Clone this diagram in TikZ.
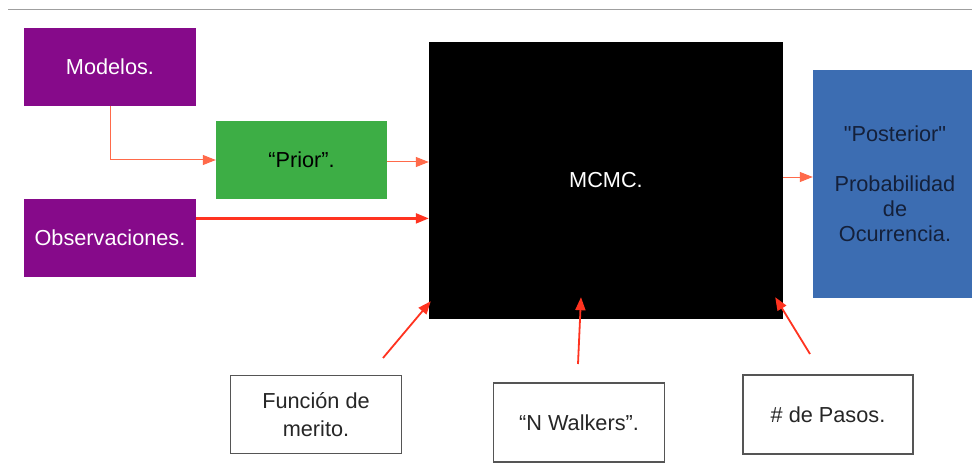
\documentclass[tikz,border=0pt]{standalone}
\usepackage{fontspec}
\setmainfont{Liberation Sans}
\newfontfamily\rawsans{Liberation Sans}[Ligatures=TeXOff]
\usetikzlibrary{arrows.meta,calc}
\definecolor{boxpurple}{HTML}{860A8A}
\definecolor{boxgreen}{HTML}{3DAE45}
\definecolor{boxblue}{HTML}{3C6DB2}
\definecolor{postext}{HTML}{14203A}
\definecolor{arrowred}{HTML}{FF3320}
\definecolor{arrowlight}{HTML}{FF6A4A}
\definecolor{framegray}{HTML}{555555}
\tikzset{
  blk/.style={rectangle, inner sep=0pt, align=center,
    font=\fontsize{21.7}{26}\selectfont},
  purplebox/.style={blk, fill=boxpurple, text=white,
    minimum width=172pt, minimum height=78pt},
  greenbox/.style={blk, fill=boxgreen, text=black,
    minimum width=171pt, minimum height=78pt},
  whitebox/.style={blk, draw=framegray, line width=1.2pt, fill=white, text=black!85,
    minimum width=171pt, minimum height=78pt},
  thinarrow/.style={draw=arrowlight, line width=1pt,
    -{Triangle[length=13pt,width=10pt]}},
  thickarrow/.style={draw=arrowred, line width=2.2pt,
    -{Triangle[length=13pt,width=10pt]}},
  midarrow/.style={draw=arrowred, line width=1.8pt,
    -{Triangle[length=13pt,width=10pt]}},
}
\begin{document}
\begin{tikzpicture}[x=1pt,y=-1pt]
  \useasboundingbox (0,0) rectangle (972,468);
  \fill[white] (0,0) rectangle (972,468);
  % header rule
  \draw[gray!75, line width=1.5pt] (8,9.5) -- (972,9.5);

  % input blocks
  \node[purplebox] (mod) at (110,67) {Modelos.};
  \node[purplebox] (obs) at (110,238) {Observaciones.};
  \node[greenbox] (prior) at (301.5,160) {“Prior”.};

  % sampler
  \node[blk, fill=black, text=white, minimum width=354pt, minimum height=277pt]
    (mcmc) at (606,180.5) {MCMC.};

  % result
  \node[blk, fill=boxblue, text=postext, minimum width=164pt, minimum height=228pt,
    font=\fontsize{21.7}{25}\selectfont]
    (post) at (895,184) {{\rawsans "Posterior"}\\[25pt]Probabilidad\\de\\Ocurrencia.};

  % parameters
  \node[whitebox, font=\fontsize{21.7}{28}\selectfont] (fun) at (316,414.5) {Función de\\merito.};
  \node[whitebox, minimum height=79pt] (walk) at (579,422.5) {“N Walkers”.};
  \node[whitebox, minimum width=170pt, minimum height=79pt] (pasos) at (828,414.5) {\# de Pasos.};

  % connectors
  \draw[thinarrow] (mod.south) |- (prior.west);
  \draw[thinarrow] ([yshift=-2pt]prior.east) -- ([yshift=-2pt]prior.east -| mcmc.west);
  \coordinate (obsout) at ($(obs.north east)!0.25!(obs.south east)$);
  \draw[thickarrow] (obsout) -- (obsout -| mcmc.west);
  \draw[thinarrow] ([yshift=3.5pt]mcmc.east) -- ([yshift=3.5pt]mcmc.east -| post.west);

  \coordinate (funtail) at (383,358);
  \coordinate (funtip) at ($(mcmc.south west)+(2,-18)$);
  \draw[midarrow] (funtail) -- (funtip);
  \coordinate (walktail) at (578,364);
  \coordinate (walktip) at ($(mcmc.south)+(-25,-22)$);
  \draw[midarrow] (walktail) -- (walktip);
  \coordinate (pasostail) at (810,354);
  \coordinate (pasostip) at ($(mcmc.south east)+(-8,-22)$);
  \draw[midarrow] (pasostail) -- (pasostip);
\end{tikzpicture}
\end{document}
